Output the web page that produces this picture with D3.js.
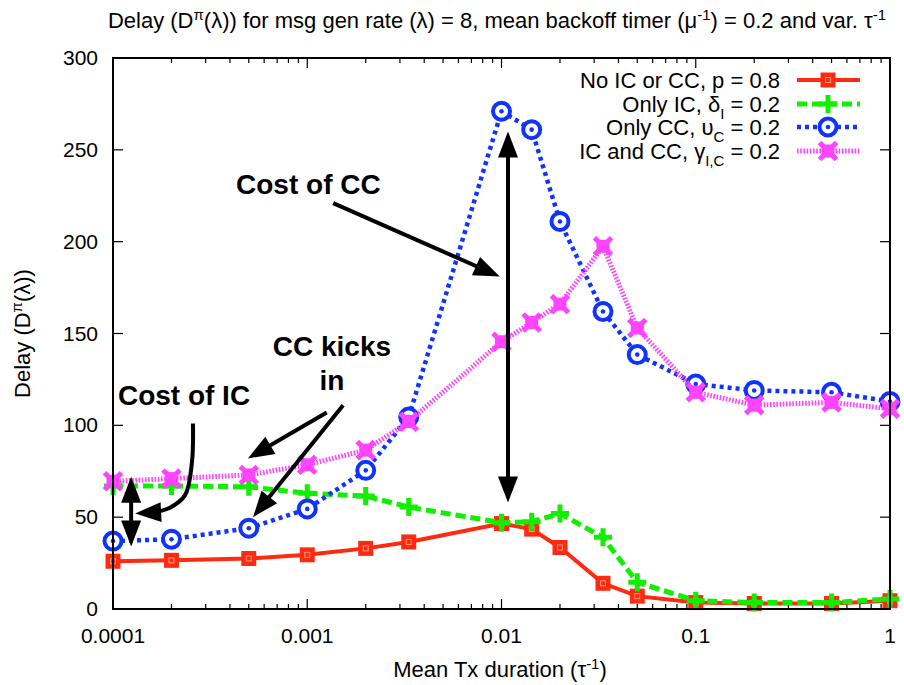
<!DOCTYPE html>
<html>
<head>
<meta charset="utf-8">
<script src="https://cdn.jsdelivr.net/npm/d3@7/dist/d3.min.js"></script>
<style>
  body { margin: 0; background: #fff; }
  svg text { font-family: "Liberation Sans", Arial, sans-serif; fill: #000; }
</style>
</head>
<body>
<svg id="chart" width="904" height="685"></svg>
<script>
// mean Tx duration (tau^-1)
const tau = [0.0001, 0.0002, 0.0005, 0.001, 0.002, 0.00333, 0.01, 0.0143, 0.02, 0.0333, 0.05, 0.1, 0.2, 0.5, 1];

// delay series
const noICCC = [26, 26.5, 27.5, 29.5, 33, 36.5, 46.5, 43.5, 33.5, 14, 7, 3.5, 3, 3, 4.5];
const onlyIC = [67, 67, 66.5, 63, 61.5, 55.5, 47, 47.5, 52, 39, 14.5, 4.5, 3.5, 3.5, 5.5];
const onlyCC = [37, 38, 44, 54.5, 75.5, 104.5, 271, 261, 211, 162, 138.5, 122.5, 119, 118, 113];
const bothICCC = [69.5, 71, 73, 78.5, 86.5, 102, 145.5, 156, 166, 197.5, 153, 118, 111, 112.5, 109];

const xTicks = [0.0001, 0.001, 0.01, 0.1, 1];
const xTickLabels = ["0.0001", "0.001", "0.01", "0.1", "1"];
const yTicks = [0, 50, 100, 150, 200, 250, 300];

const svg = d3.select("#chart");
const pLeft = 113, pRight = 890, pTop = 58, pBottom = 609;

const x = d3.scaleLog().domain([0.0001, 1]).range([pLeft, pRight]);
const y = d3.scaleLinear().domain([0, 300]).range([pBottom, pTop]);

// title
const title = svg.append("text")
  .attr("x", 497).attr("y", 28)
  .attr("text-anchor", "middle")
  .style("font-size", "22px");
title.append("tspan").text("Delay (D");
title.append("tspan").attr("dy", -8).style("font-size", "15px").text("π");
title.append("tspan").attr("dy", 8).text("(λ)) for msg gen rate (λ) = 8, mean backoff timer (μ");
title.append("tspan").attr("dy", -8).style("font-size", "15px").text("-1");
title.append("tspan").attr("dy", 8).text(") = 0.2 and var. τ");
title.append("tspan").attr("dy", -8).style("font-size", "15px").text("-1");

// ticks (gnuplot style, inward, mirrored)
const ticks = svg.append("g").attr("stroke", "#000").attr("stroke-width", 1.2);
const minor = [];
for (let d = 0.0001; d < 1; d *= 10) {
  for (let k = 2; k <= 9; k++) minor.push(d * k);
}
xTicks.forEach(t => {
  ticks.append("line").attr("x1", x(t)).attr("x2", x(t)).attr("y1", pBottom).attr("y2", pBottom - 10);
  ticks.append("line").attr("x1", x(t)).attr("x2", x(t)).attr("y1", pTop).attr("y2", pTop + 10);
});
minor.forEach(t => {
  ticks.append("line").attr("x1", x(t)).attr("x2", x(t)).attr("y1", pBottom).attr("y2", pBottom - 5);
  ticks.append("line").attr("x1", x(t)).attr("x2", x(t)).attr("y1", pTop).attr("y2", pTop + 5);
});
yTicks.forEach(t => {
  ticks.append("line").attr("x1", pLeft).attr("x2", pLeft + 10).attr("y1", y(t)).attr("y2", y(t));
  ticks.append("line").attr("x1", pRight).attr("x2", pRight - 10).attr("y1", y(t)).attr("y2", y(t));
});

// tick labels
svg.append("g").selectAll("text").data(xTicks).join("text")
  .attr("x", d => x(d)).attr("y", pBottom + 34)
  .attr("text-anchor", "middle").style("font-size", "21px")
  .text((d, i) => xTickLabels[i]);
svg.append("g").selectAll("text").data(yTicks).join("text")
  .attr("x", pLeft - 15).attr("y", d => y(d) + 7)
  .attr("text-anchor", "end").style("font-size", "21px")
  .text(d => d);

// axis labels
const xl = svg.append("text").attr("x", 500).attr("y", 677)
  .attr("text-anchor", "middle").style("font-size", "22px");
xl.append("tspan").text("Mean Tx duration (τ");
xl.append("tspan").attr("dy", -8).style("font-size", "15px").text("-1");
xl.append("tspan").attr("dy", 8).text(")");

const yl = svg.append("text")
  .attr("transform", `translate(30, ${(pTop + pBottom) / 2}) rotate(-90)`)
  .attr("text-anchor", "middle").style("font-size", "22px");
yl.append("tspan").text("Delay (D");
yl.append("tspan").attr("dy", -8).style("font-size", "15px").text("π");
yl.append("tspan").attr("dy", 8).text("(λ))");

// series
const series = [
  { name: "No IC or CC", values: noICCC, color: "#ff2a10", width: 4, dash: null, marker: "square" },
  { name: "Only IC", values: onlyIC, color: "#11ee00", width: 5, dash: "10,5", marker: "plus" },
  { name: "Only CC", values: onlyCC, color: "#1133ff", width: 4.5, dash: "4,4", marker: "ring" },
  { name: "IC and CC", values: bothICCC, color: "#ff44ff", width: 5, dash: "1.6,1.6", marker: "cross" }
];

const line = d3.line().x(d => x(d[0])).y(d => y(d[1]));

function drawMarker(g, type, cx, cy, color) {
  if (type === "square") {
    g.append("rect").attr("x", cx - 7.5).attr("y", cy - 7.5).attr("width", 15).attr("height", 15)
      .attr("fill", color);
    g.append("rect").attr("x", cx - 2.5).attr("y", cy - 2.5).attr("width", 5).attr("height", 5)
      .attr("fill", "none").attr("stroke", "#ff9980").attr("stroke-width", 1);
  } else if (type === "plus") {
    g.append("path").attr("d", `M${cx - 9},${cy}H${cx + 9}M${cx},${cy - 9}V${cy + 9}`)
      .attr("stroke", color).attr("stroke-width", 5).attr("fill", "none");
  } else if (type === "ring") {
    g.append("circle").attr("cx", cx).attr("cy", cy).attr("r", 8.5)
      .attr("fill", "#fff").attr("stroke", color).attr("stroke-width", 4);
    g.append("circle").attr("cx", cx).attr("cy", cy).attr("r", 2.3).attr("fill", color);
  } else if (type === "cross") {
    g.append("rect").attr("x", cx - 6.5).attr("y", cy - 6.5).attr("width", 13).attr("height", 13)
      .attr("fill", color);
    g.append("path").attr("d", `M${cx - 8.5},${cy - 8.5}L${cx + 8.5},${cy + 8.5}M${cx - 8.5},${cy + 8.5}L${cx + 8.5},${cy - 8.5}`)
      .attr("stroke", color).attr("stroke-width", 5);
  }
}

series.forEach(s => {
  const pts = tau.map((t, i) => [t, s.values[i]]);
  svg.append("path").datum(pts)
    .attr("d", line).attr("fill", "none")
    .attr("stroke", s.color).attr("stroke-width", s.width)
    .attr("stroke-dasharray", s.dash);
  const mg = svg.append("g");
  pts.forEach(p => drawMarker(mg, s.marker, x(p[0]), y(p[1]), s.color));
});

// legend
const legendRows = [
  { parts: [["No IC or CC, p = 0.8", 0]] },
  { parts: [["Only IC, δ", 0], ["I", 1], [" = 0.2", -1]] },
  { parts: [["Only CC, υ", 0], ["C", 1], [" = 0.2", -1]] },
  { parts: [["IC and CC, γ", 0], ["I,C", 1], [" = 0.2", -1]] }
];
const legendY = [80, 104, 127, 151];
legendRows.forEach((row, i) => {
  const s = series[i];
  const ly = legendY[i];
  const t = svg.append("text").attr("x", 780).attr("y", ly + 8)
    .attr("text-anchor", "end").style("font-size", "22px");
  row.parts.forEach(([txt, sub]) => {
    const sp = t.append("tspan").text(txt);
    if (sub === 1) sp.attr("dy", 7).style("font-size", "15px");
    if (sub === -1) sp.attr("dy", -7);
  });
  svg.append("line").attr("x1", 797).attr("x2", 860).attr("y1", ly).attr("y2", ly)
    .attr("stroke", s.color).attr("stroke-width", s.width).attr("stroke-dasharray", s.dash);
  drawMarker(svg.append("g"), s.marker, 828, ly, s.color);
});

// frame
svg.append("rect").attr("x", pLeft).attr("y", pTop)
  .attr("width", pRight - pLeft).attr("height", pBottom - pTop)
  .attr("fill", "none").attr("stroke", "#000").attr("stroke-width", 2);

// annotations (data coordinates)
const ann = svg.append("g");
function arrowHead(px, py, angle) {
  const L = 26, W = 10;
  const bx = px - L * Math.cos(angle), by = py - L * Math.sin(angle);
  const nx = -Math.sin(angle) * W, ny = Math.cos(angle) * W;
  ann.append("path").attr("d", `M${px},${py}L${bx + nx},${by + ny}L${bx - nx},${by - ny}Z`).attr("fill", "#000");
}
function arrow(x1, y1, x2, y2, both) {
  const p1 = [x(x1), y(y1)], p2 = [x(x2), y(y2)];
  const a = Math.atan2(p2[1] - p1[1], p2[0] - p1[0]);
  const s1 = both ? [p1[0] + 20 * Math.cos(a), p1[1] + 20 * Math.sin(a)] : p1;
  const s2 = [p2[0] - 20 * Math.cos(a), p2[1] - 20 * Math.sin(a)];
  ann.append("line").attr("x1", s1[0]).attr("y1", s1[1]).attr("x2", s2[0]).attr("y2", s2[1])
    .attr("stroke", "#000").attr("stroke-width", 4);
  arrowHead(p2[0], p2[1], a);
  if (both) arrowHead(p1[0], p1[1], a + Math.PI);
}
function label(tx, ty, str, anchor) {
  ann.append("text").attr("x", x(tx)).attr("y", y(ty))
    .attr("text-anchor", anchor || "start")
    .style("font-size", "28px").style("font-weight", "bold").text(str);
}

label(0.00043, 226, "Cost of CC");
arrow(0.00136, 221, 0.0098, 181, false);
arrow(0.0108, 58, 0.0108, 260, true);

label(0.00134, 138, "CC kicks", "middle");
label(0.00134, 119, "in", "middle");
arrow(0.00126, 107, 0.000495, 82, false);
arrow(0.00153, 111, 0.000526, 50, false);

label(0.000106, 111, "Cost of IC");
arrow(0.000124, 34, 0.000124, 72, true);

// curved arrow for "Cost of IC"
const curvePts = [[0.000258, 101], [0.000255, 80], [0.000235, 62], [0.000195, 55], [0.00016, 52.5]];
const curve = d3.line().x(d => x(d[0])).y(d => y(d[1])).curve(d3.curveCatmullRom);
ann.append("path").datum(curvePts).attr("d", curve)
  .attr("fill", "none").attr("stroke", "#000").attr("stroke-width", 4);
const tipX = x(0.00013), tipY = y(52);
const last = curvePts[curvePts.length - 1];
arrowHead(tipX, tipY, Math.atan2(tipY - y(last[1]), tipX - x(last[0])));
</script>
</body>
</html>
